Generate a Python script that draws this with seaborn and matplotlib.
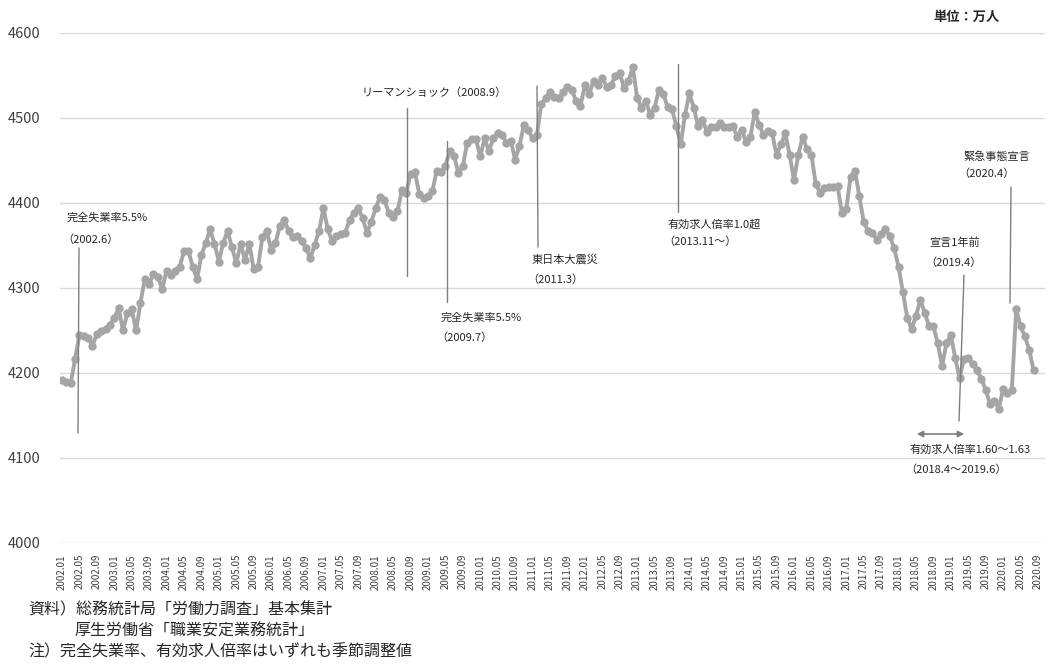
import numpy as np
import matplotlib
matplotlib.use("Agg")
import matplotlib.pyplot as plt
import seaborn as sns
from matplotlib.lines import Line2D
from matplotlib.patches import FancyArrowPatch

# monthly categories 2002.01 - 2020.09
months = [f"{2002 + m // 12}.{m % 12 + 1:02d}" for m in range(225)]

# values (万人); 2020.09 not yet available
v2002 = [4192, 4189, 4188, 4216, 4245, 4244, 4241, 4232, 4246, 4249, 4252, 4257]
v2003 = [4265, 4276, 4250, 4270, 4275, 4250, 4282, 4311, 4305, 4316, 4313, 4299]
v2004 = [4320, 4315, 4320, 4325, 4343, 4344, 4325, 4310, 4339, 4353, 4369, 4352]
v2005 = [4331, 4353, 4367, 4348, 4329, 4352, 4333, 4352, 4322, 4325, 4360, 4367]
v2006 = [4345, 4353, 4373, 4380, 4367, 4360, 4361, 4355, 4347, 4335, 4351, 4367]
v2007 = [4394, 4369, 4355, 4361, 4363, 4365, 4380, 4388, 4394, 4382, 4365, 4378]
v2008 = [4394, 4407, 4404, 4388, 4384, 4390, 4415, 4412, 4434, 4436, 4411, 4406]
v2009 = [4408, 4414, 4438, 4436, 4444, 4461, 4455, 4435, 4443, 4471, 4475, 4475]
v2010 = [4455, 4476, 4461, 4476, 4482, 4480, 4471, 4473, 4451, 4467, 4492, 4486]
v2011 = [4476, 4480, 4516, 4524, 4531, 4525, 4523, 4531, 4537, 4533, 4520, 4514]
v2012 = [4539, 4528, 4544, 4539, 4547, 4537, 4539, 4549, 4553, 4535, 4543, 4560]
v2013 = [4524, 4512, 4520, 4504, 4512, 4533, 4528, 4513, 4510, 4491, 4469, 4504]
v2014 = [4529, 4512, 4490, 4498, 4484, 4489, 4489, 4494, 4489, 4489, 4490, 4478]
v2015 = [4486, 4472, 4478, 4507, 4492, 4480, 4485, 4482, 4456, 4469, 4482, 4457]
v2016 = [4427, 4457, 4478, 4463, 4457, 4422, 4412, 4418, 4419, 4419, 4420, 4388]
v2017 = [4393, 4431, 4438, 4408, 4378, 4367, 4365, 4357, 4363, 4369, 4361, 4347]
v2018 = [4325, 4295, 4265, 4252, 4267, 4286, 4271, 4255, 4255, 4235, 4208, 4235]
v2019 = [4245, 4218, 4194, 4216, 4218, 4210, 4204, 4193, 4180, 4164, 4167, 4158]
v2020 = [4181, 4176, 4180, 4275, 4255, 4243, 4227, 4203, np.nan]

values = (v2002 + v2003 + v2004 + v2005 + v2006 + v2007 + v2008 + v2009 + v2010
          + v2011 + v2012 + v2013 + v2014 + v2015 + v2016 + v2017 + v2018
          + v2019 + v2020)

yticks = [4000, 4100, 4200, 4300, 4400, 4500, 4600]

sns.set_style("white")
plt.rcParams['font.family'] = ['Noto Sans CJK JP', 'DejaVu Sans']

W, H = 1055, 665
fig = plt.figure(figsize=(W / 100, H / 100), dpi=100)

def fx(px):
    return px / W

def fy(py):
    return 1 - py / H

ax = fig.add_axes([fx(60), fy(543), (1045 - 60) / W, (543 - 33) / H])

x = np.arange(len(months))
sns.lineplot(x=x, y=values, ax=ax, color='#a5a5a5', linewidth=2.8,
             marker='o', markersize=6, markeredgewidth=0)

step = 4.357
ax.set_xlim((60 - 62) / step, (1045 - 62) / step)
ax.set_ylim(4000, 4600)
ax.set_xticks(x[::4])
ax.set_xticklabels(months[::4], rotation=90, fontsize=7, color='#404040')
ax.set_yticks(yticks)
ax.set_yticklabels([str(t) for t in yticks], fontsize=10.5, color='#404040')
ax.tick_params(axis='x', length=0, pad=8)
ax.tick_params(axis='y', length=0, pad=14)
ax.yaxis.grid(True, color='#d9d9d9', linewidth=1)
ax.xaxis.grid(False)
for s in ax.spines.values():
    s.set_visible(False)
ax.set_xlabel('')
ax.set_ylabel('')

# annotation lines (pixel positions)
line_color = '#7f7f7f'
ann_lines = [
    ((79, 248), (78, 433)),
    ((407, 108), (407, 276)),
    ((447, 141), (447, 302)),
    ((537, 86), (538, 247)),
    ((678, 64), (678, 212)),
    ((964, 275), (959, 421)),
    ((1011, 187), (1010, 303)),
]
for (x1, y1), (x2, y2) in ann_lines:
    fig.add_artist(Line2D([fx(x1), fx(x2)], [fy(y1), fy(y2)],
                          color=line_color, linewidth=1))

arrow = FancyArrowPatch((fx(914), fy(434)), (fx(967), fy(434)),
                        transform=fig.transFigure, arrowstyle='<|-|>',
                        mutation_scale=9, color=line_color, linewidth=1.2)
fig.add_artist(arrow)

txt = '#262626'
fs = 8
texts = [
    (67, 218, '完全失業率5.5%'),
    (62, 240, '（2002.6）'),
    (362, 93, 'リーマンショック（2008.9）'),
    (441, 318, '完全失業率5.5%'),
    (436, 338, '（2009.7）'),
    (532, 259, '東日本大震災'),
    (527, 280, '（2011.3）'),
    (668, 224, '有効求人倍率1.0超'),
    (663, 242, '（2013.11～）'),
    (929, 243, '宣言1年前'),
    (925, 263, '（2019.4）'),
    (910, 450, '有効求人倍率1.60～1.63'),
    (905, 470, '（2018.4～2019.6）'),
    (963, 157, '緊急事態宣言'),
    (958, 174, '（2020.4）'),
]
for px, py, s in texts:
    fig.text(fx(px), fy(py), s, fontsize=fs, color=txt, ha='left', va='center')

fig.text(fx(933), fy(17), '単位：万人', fontsize=9.5, color=txt,
         ha='left', va='center', fontweight='bold')

# footnotes
fig.text(fx(28), fy(610), '資料）総務統計局「労働力調査」基本集計', fontsize=11.5,
         color=txt, ha='left', va='center')
fig.text(fx(74), fy(631), '厚生労働省「職業安定業務統計」', fontsize=11.5,
         color=txt, ha='left', va='center')
fig.text(fx(28), fy(652), '注）完全失業率、有効求人倍率はいずれも季節調整値', fontsize=11.5,
         color=txt, ha='left', va='center')

fig.savefig('out.png', dpi=100)
